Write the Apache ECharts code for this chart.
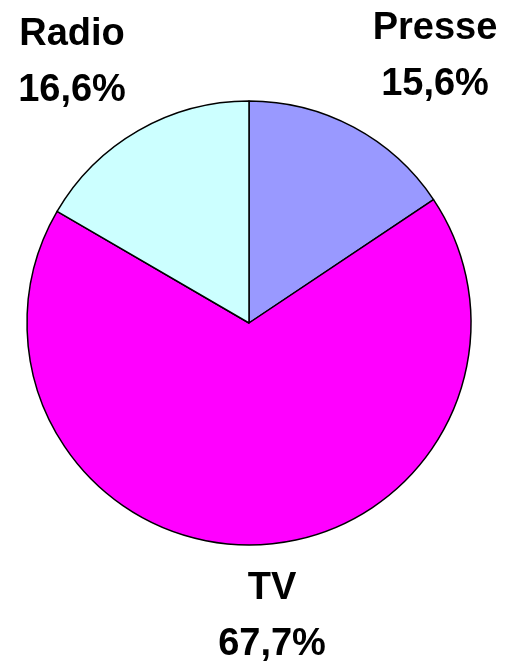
<!DOCTYPE html>
<html>
<head>
<meta charset="utf-8">
<script src="https://cdn.jsdelivr.net/npm/echarts@6/dist/echarts.min.js"></script>
<style>
html, body { margin: 0; padding: 0; background: #fff; }
#chart { width: 506px; height: 666px; }
</style>
</head>
<body>
<div id="chart"></div>
<script>
// données du graphique
const categories = ['Presse', 'TV', 'Radio'];
const values = [15.6, 67.7, 16.6];
const colors = ['#9999FF', '#FF00FF', '#CCFFFF'];

// positions des étiquettes (centre du bloc de texte)
const labelPos = [[435, 57], [272, 617], [72, 63]];

const myChart = echarts.init(document.getElementById('chart'));

const option = {
    animation: false,
    series: [{
        type: 'pie',
        center: [249, 323],
        radius: 222,
        startAngle: 90,
        clockwise: true,
        data: categories.map((name, i) => ({
            name: name,
            value: values[i],
            itemStyle: { color: colors[i] }
        })),
        itemStyle: { borderColor: '#000', borderWidth: 1.5 },
        label: {
            show: true,
            formatter: p => p.name + '\n' + p.value.toFixed(1).replace('.', ',') + '%',
            fontFamily: 'Liberation Sans, Arial, sans-serif',
            fontWeight: 'bold',
            fontSize: 38,
            lineHeight: 56,
            color: '#000',
            align: 'center',
            width: 200,
            overflow: 'none'
        },
        labelLine: { show: false },
        labelLayout: p => ({
            x: labelPos[p.dataIndex][0],
            y: labelPos[p.dataIndex][1],
            align: 'center',
            verticalAlign: 'middle'
        }),
        emphasis: { disabled: true }
    }]
};

myChart.setOption(option);
</script>
</body>
</html>
